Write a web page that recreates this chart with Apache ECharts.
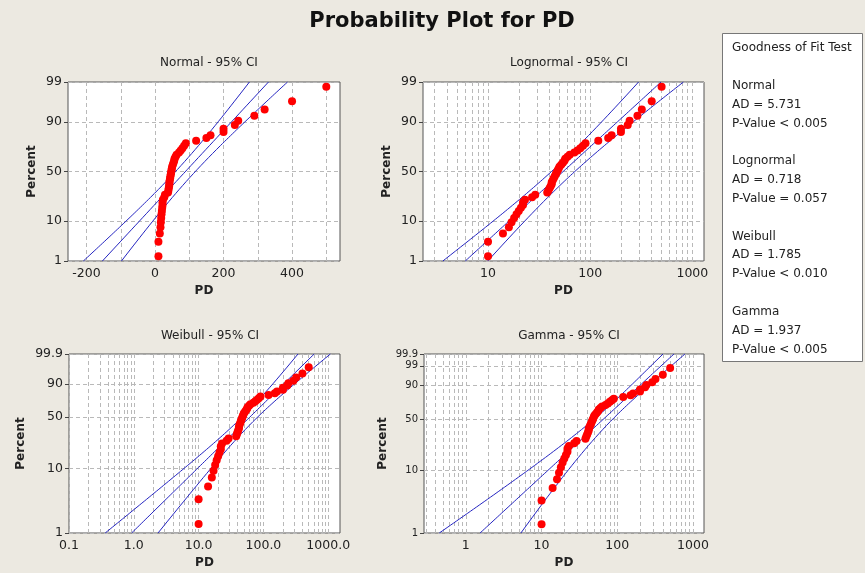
<!DOCTYPE html>
<html>
<head>
<meta charset="utf-8">
<script src="https://cdn.jsdelivr.net/npm/echarts@6/dist/echarts.min.js"></script>
<style>
html, body { margin: 0; padding: 0; background: #ece9e1; }
#main { width: 865px; height: 573px; }
</style>
</head>
<body>
<div id="main"></div>
<script>
const pd = [10, 10, 14, 16, 17, 18, 19, 20, 21, 22,
    22, 23, 27, 29, 38, 39, 40, 41, 42, 42,
    43, 44, 45, 46, 47, 48, 49, 50, 52, 54,
    56, 57, 60, 63, 70, 75, 80, 85, 90, 120,
    150, 162, 200, 200, 233, 243, 290, 320, 400, 500];

//tick labels / axis ranges
const normalXTicks = [-200, 0, 200, 400];
const normalXGrid = [-200, -100, 0, 100, 200, 300, 400, 500];
const normalXRange = [-254, 540];
const lognormXRange = [2.31, 1300];
const weibullXRange = [0.1, 1520];
const gammaXRange = [0.28, 1400];
const decadeTicks = [1, 10, 100, 1000];
const weibullXTicks = [0.1, 1, 10, 100, 1000];
const weibullXLabels = ["0.1", "1.0", "10.0", "100.0", "1000.0"];
const pctTicks = [1, 10, 50, 90, 99];
const weibullPctTicks = [1, 10, 50, 90, 99.9];
const gammaPctTicks = [1, 10, 50, 90, 99, 99.9];

//goodness of fit box
const fitNames = ["Normal", "Lognormal", "Weibull", "Gamma"];
const adValues = ["5.731", "0.718", "1.785", "1.937"];
const pValues = ["< 0.005", "= 0.057", "< 0.010", "< 0.005"];

const BG = "#ece9e1";
const FONT = "DejaVu Sans";
const LINE = "#2424c0";
const n = pd.length;
const z975 = 1.959964;

//---------------- math helpers ----------------
function normInv(p) {
    const a = [-3.969683028665376e+01, 2.209460984245205e+02, -2.759285104469687e+02, 1.383577518672690e+02, -3.066479806614716e+01, 2.506628277459239e+00];
    const b = [-5.447609879822406e+01, 1.615858368580409e+02, -1.556989798598866e+02, 6.680131188771972e+01, -1.328068155288572e+01];
    const c = [-7.784894002430293e-03, -3.223964580411365e-01, -2.400758277161838e+00, -2.549732539343734e+00, 4.374664141464968e+00, 2.938163982698783e+00];
    const d = [7.784695709041462e-03, 3.224671290700398e-01, 2.445134137142996e+00, 3.754408661907416e+00];
    const pl = 0.02425;
    let q, r;
    if (p < pl) {
        q = Math.sqrt(-2 * Math.log(p));
        return (((((c[0]*q+c[1])*q+c[2])*q+c[3])*q+c[4])*q+c[5]) / ((((d[0]*q+d[1])*q+d[2])*q+d[3])*q+1);
    }
    if (p > 1 - pl) {
        q = Math.sqrt(-2 * Math.log(1 - p));
        return -(((((c[0]*q+c[1])*q+c[2])*q+c[3])*q+c[4])*q+c[5]) / ((((d[0]*q+d[1])*q+d[2])*q+d[3])*q+1);
    }
    q = p - 0.5; r = q * q;
    return (((((a[0]*r+a[1])*r+a[2])*r+a[3])*r+a[4])*r+a[5])*q / (((((b[0]*r+b[1])*r+b[2])*r+b[3])*r+b[4])*r+1);
}

function lnGamma(x) {
    const g = [0.99999999999980993, 676.5203681218851, -1259.1392167224028, 771.32342877765313,
        -176.61502916214059, 12.507343278686905, -0.13857109526572012, 9.9843695780195716e-6, 1.5056327351493116e-7];
    if (x < 0.5) return Math.log(Math.PI / Math.sin(Math.PI * x)) - lnGamma(1 - x);
    x -= 1;
    let s = g[0];
    const t = x + 7.5;
    for (let i = 1; i < 9; i++) s += g[i] / (x + i);
    return 0.5 * Math.log(2 * Math.PI) + (x + 0.5) * Math.log(t) - t + Math.log(s);
}

//regularized lower incomplete gamma
function gammaP(a, x) {
    if (x <= 0) return 0;
    const gln = lnGamma(a);
    if (x < a + 1) {
        let ap = a, sum = 1 / a, del = sum;
        for (let i = 0; i < 500; i++) {
            ap += 1; del *= x / ap; sum += del;
            if (Math.abs(del) < Math.abs(sum) * 1e-15) break;
        }
        return sum * Math.exp(-x + a * Math.log(x) - gln);
    }
    let b = x + 1 - a, c = 1e300, d = 1 / b, h = d;
    for (let i = 1; i < 500; i++) {
        const an = -i * (i - a);
        b += 2;
        d = an * d + b; if (Math.abs(d) < 1e-300) d = 1e-300;
        c = b + an / c; if (Math.abs(c) < 1e-300) c = 1e-300;
        d = 1 / d;
        const del = d * c;
        h *= del;
        if (Math.abs(del - 1) < 1e-15) break;
    }
    return 1 - Math.exp(-x + a * Math.log(x) - gln) * h;
}

//ln of the standard gamma quantile
function gammaLnQ(p, a) {
    let lo = -40, hi = 10;
    for (let i = 0; i < 120; i++) {
        const m = (lo + hi) / 2;
        if (gammaP(a, Math.exp(m)) < p) lo = m; else hi = m;
    }
    return (lo + hi) / 2;
}

function digamma(x) {
    let r = 0;
    while (x < 6) { r -= 1 / x; x += 1; }
    const f = 1 / (x * x);
    return r + Math.log(x) - 0.5 / x - f * (1 / 12 - f * (1 / 120 - f / 252));
}

function trigamma(x) {
    let r = 0;
    while (x < 6) { r += 1 / (x * x); x += 1; }
    const f = 1 / (x * x);
    return r + 1 / x + f / 2 + (1 / (x * x * x)) * (1 / 6 - f * (1 / 30 - f / 42));
}

function bisect(fn, lo, hi) {
    const flo = fn(lo);
    for (let i = 0; i < 200; i++) {
        const m = (lo + hi) / 2;
        if ((fn(m) > 0) === (flo > 0)) lo = m; else hi = m;
    }
    return (lo + hi) / 2;
}

const log10 = v => Math.log(v) / Math.LN10;
const weib = p => Math.log(-Math.log(1 - p));

//---------------- fits (MLE) ----------------
const lnx = pd.map(v => Math.log(v));
const mean = pd.reduce((a, v) => a + v, 0) / n;
const sd = Math.sqrt(pd.reduce((a, v) => a + (v - mean) ** 2, 0) / n);
const muL = lnx.reduce((a, v) => a + v, 0) / n;
const sdL = Math.sqrt(lnx.reduce((a, v) => a + (v - muL) ** 2, 0) / n);

//weibull shape / scale
const beta = bisect(bt => {
    let s0 = 0, s1 = 0;
    pd.forEach((v, i) => { const w = Math.pow(v, bt); s0 += w; s1 += w * lnx[i]; });
    return s1 / s0 - 1 / bt - muL;
}, 0.05, 20);
const eta = Math.pow(pd.reduce((a, v) => a + Math.pow(v, beta), 0) / n, 1 / beta);
const wu = Math.log(eta), wb = 1 / beta;

//gamma shape / scale
const gs = Math.log(mean) - muL;
const kShape = bisect(k => Math.log(k) - digamma(k) - gs, 0.01, 100);
const lnTheta = Math.log(mean / kShape);
const tri = trigamma(kShape);
const gD = kShape * tri - 1;

//probability transforms for the 4 y scales
const tNorm = p => normInv(p);
const tWeib = p => weib(p);
const tGam = p => gammaLnQ(p, kShape);

//median ranks
const ranks = pd.map((v, i) => (i + 1 - 0.3) / (n + 0.4));

//---------------- series data ----------------
const steps = 90;
function range(t0, t1) {
    return Array.from({ length: steps + 1 }, (d, i) => t0 + (t1 - t0) * i / steps);
}

//normal
const nT = range(tNorm(0.01), tNorm(0.99));
const nSe = z => z975 * Math.sqrt(1 / n + z * z / (2 * n));
const normFit = nT.map(z => [mean + z * sd, z]);
const normLo = nT.map(z => [mean + z * sd - sd * nSe(z), z]);
const normHi = nT.map(z => [mean + z * sd + sd * nSe(z), z]);
const normPts = pd.map((v, i) => [v, tNorm(ranks[i])]);

//lognormal
const lnFit = nT.map(z => [(muL + z * sdL) / Math.LN10, z]);
const lnLo = nT.map(z => [(muL + z * sdL - sdL * nSe(z)) / Math.LN10, z]);
const lnHi = nT.map(z => [(muL + z * sdL + sdL * nSe(z)) / Math.LN10, z]);
const lnPts = pd.map((v, i) => [log10(v), tNorm(ranks[i])]);

//weibull
const wT = range(tWeib(0.01), tWeib(0.999));
const wSe = w => wb * Math.sqrt((1.1087 + 0.5140 * w + 0.6079 * w * w) / n);
const wFit = wT.map(w => [(wu + w * wb) / Math.LN10, w]);
const wLo = wT.map(w => [(wu + w * wb - z975 * wSe(w)) / Math.LN10, w]);
const wHi = wT.map(w => [(wu + w * wb + z975 * wSe(w)) / Math.LN10, w]);
const wPts = pd.map((v, i) => [log10(v), tWeib(ranks[i])]);

//gamma
const gT = range(tGam(0.01), tGam(0.999));
const gSe = t => {
    const p = gammaP(kShape, Math.exp(t));
    const h = 1e-3;
    const d = (gammaLnQ(p, kShape + h) - gammaLnQ(p, kShape - h)) / (2 * h);
    return Math.sqrt((tri + d * d * kShape - 2 * d) / (n * gD));
};
const gSes = gT.map(gSe);
const gFit = gT.map(t => [(lnTheta + t) / Math.LN10, t]);
const gLo = gT.map((t, i) => [(lnTheta + t - z975 * gSes[i]) / Math.LN10, t]);
const gHi = gT.map((t, i) => [(lnTheta + t + z975 * gSes[i]) / Math.LN10, t]);
const gPts = pd.map((v, i) => [log10(v), tGam(ranks[i])]);

//log grid values 1..9 x decade inside range
function logGrid(r) {
    const out = [];
    for (let d = Math.floor(log10(r[0])); d <= Math.ceil(log10(r[1])); d++) {
        for (let m = 1; m < 10; m++) {
            const v = m * Math.pow(10, d);
            if (v >= r[0] && v <= r[1]) out.push(log10(v));
        }
    }
    return out;
}

//---------------- axes ----------------
const dashed = { show: true, lineStyle: { color: "#b9b9b9", type: [4, 3], width: 1 } };
const labelStyle = { color: "#222", fontFamily: FONT, fontSize: 12.5 };
const nameStyle = { fontFamily: FONT, fontWeight: "bold", fontSize: 12, color: "#222" };

function findLabel(vals, labels) {
    return v => {
        const i = vals.findIndex(t => Math.abs(t - v) < 1e-6);
        return i < 0 ? "" : labels[i];
    };
}

function xAxis(idx, min, max, labelVals, labels, gridVals) {
    return {
        type: "value", gridIndex: idx, min: min, max: max,
        name: "PD", nameLocation: "middle", nameGap: 24, nameTextStyle: nameStyle,
        axisLine: { show: false, onZero: false },
        axisTick: { show: false, customValues: gridVals },
        axisLabel: Object.assign({ customValues: labelVals, margin: 6, formatter: findLabel(labelVals, labels), hideOverlap: false }, labelStyle),
        splitLine: dashed
    };
}

function yAxis(idx, tf, ticks, gap, fs) {
    const vals = ticks.map(p => tf(p / 100));
    return {
        type: "value", gridIndex: idx, min: vals[0], max: vals[vals.length - 1],
        name: "Percent", nameLocation: "middle", nameGap: gap, nameTextStyle: nameStyle,
        axisLine: { show: false, onZero: false },
        axisTick: { show: true, length: 4, customValues: vals, lineStyle: { color: "#444" } },
        axisLabel: Object.assign({}, labelStyle, { fontSize: fs, customValues: vals, margin: 6, formatter: findLabel(vals, ticks.map(String)), hideOverlap: false }),
        splitLine: dashed
    };
}

const grids = [
    { left: 68, top: 82, width: 272, height: 179 },
    { left: 423, top: 82, width: 281, height: 179 },
    { left: 69, top: 354, width: 271, height: 179 },
    { left: 424, top: 354, width: 280, height: 179 }
].map(g => Object.assign(g, { show: true, backgroundColor: "#fff", borderColor: "#555", borderWidth: 1, containLabel: false }));

function lineSeries(idx, data) {
    return {
        type: "line", xAxisIndex: idx, yAxisIndex: idx, data: data, showSymbol: false,
        lineStyle: { color: LINE, width: 1 }, clip: true, silent: true, z: 3
    };
}
function dotSeries(idx, data) {
    return {
        type: "scatter", xAxisIndex: idx, yAxisIndex: idx, data: data, symbolSize: 8,
        itemStyle: { color: "#ff0000", opacity: 1 }, z: 4, clip: false
    };
}

const subTitle = (text, left, top) => ({
    text: text, left: left, top: top, textAlign: "center",
    textStyle: { fontFamily: FONT, fontWeight: "normal", fontSize: 12, color: "#222" }
});

//goodness of fit text elements
const boxFont = "12px '" + FONT + "'";
const boxText = [{ type: "text", left: 732, top: 42, style: { text: "Goodness of Fit Test", font: boxFont, fill: "#222" } }];
fitNames.forEach((name, i) => {
    const y0 = 80 + i * 75.2;
    const lines = [name, "AD = " + adValues[i], "P-Value " + pValues[i]];
    lines.forEach((s, j) => boxText.push({
        type: "text", left: 732, top: y0 + j * 18.9,
        style: { text: s, font: boxFont, fill: "#222" }
    }));
});

const chart = echarts.init(document.getElementById("main"));
chart.setOption({
    backgroundColor: BG,
    animation: false,
    title: [
        { text: "Probability Plot for PD", left: 437, top: 6, textAlign: "center",
          textStyle: { fontFamily: FONT, fontWeight: "bold", fontSize: 21, color: "#111" } },
        subTitle("Normal - 95% CI", 204, 52),
        subTitle("Lognormal - 95% CI", 564, 52),
        subTitle("Weibull - 95% CI", 205, 325),
        subTitle("Gamma - 95% CI", 564, 325)
    ],
    grid: grids,
    xAxis: [
        xAxis(0, normalXRange[0], normalXRange[1], normalXTicks, normalXTicks.map(String), normalXGrid),
        xAxis(1, log10(lognormXRange[0]), log10(lognormXRange[1]), decadeTicks.slice(1).map(log10), decadeTicks.slice(1).map(String), logGrid(lognormXRange)),
        xAxis(2, log10(weibullXRange[0]), log10(weibullXRange[1]), weibullXTicks.map(log10), weibullXLabels, logGrid(weibullXRange)),
        xAxis(3, log10(gammaXRange[0]), log10(gammaXRange[1]), decadeTicks.map(log10), decadeTicks.map(String), logGrid(gammaXRange))
    ],
    yAxis: [
        yAxis(0, tNorm, pctTicks, 30, 12.5),
        yAxis(1, tNorm, pctTicks, 30, 12.5),
        yAxis(2, tWeib, weibullPctTicks, 42, 12.5),
        yAxis(3, tGam, gammaPctTicks, 35, 10)
    ],
    series: [
        lineSeries(0, normFit), lineSeries(0, normLo), lineSeries(0, normHi), dotSeries(0, normPts),
        lineSeries(1, lnFit), lineSeries(1, lnLo), lineSeries(1, lnHi), dotSeries(1, lnPts),
        lineSeries(2, wFit), lineSeries(2, wLo), lineSeries(2, wHi), dotSeries(2, wPts),
        lineSeries(3, gFit), lineSeries(3, gLo), lineSeries(3, gHi), dotSeries(3, gPts)
    ],
    graphic: [
        { type: "rect", shape: { x: 722.5, y: 33.5, width: 140, height: 328 },
          style: { fill: "#fff", stroke: "#777", lineWidth: 1 } }
    ].concat(boxText)
});
</script>
</body>
</html>
